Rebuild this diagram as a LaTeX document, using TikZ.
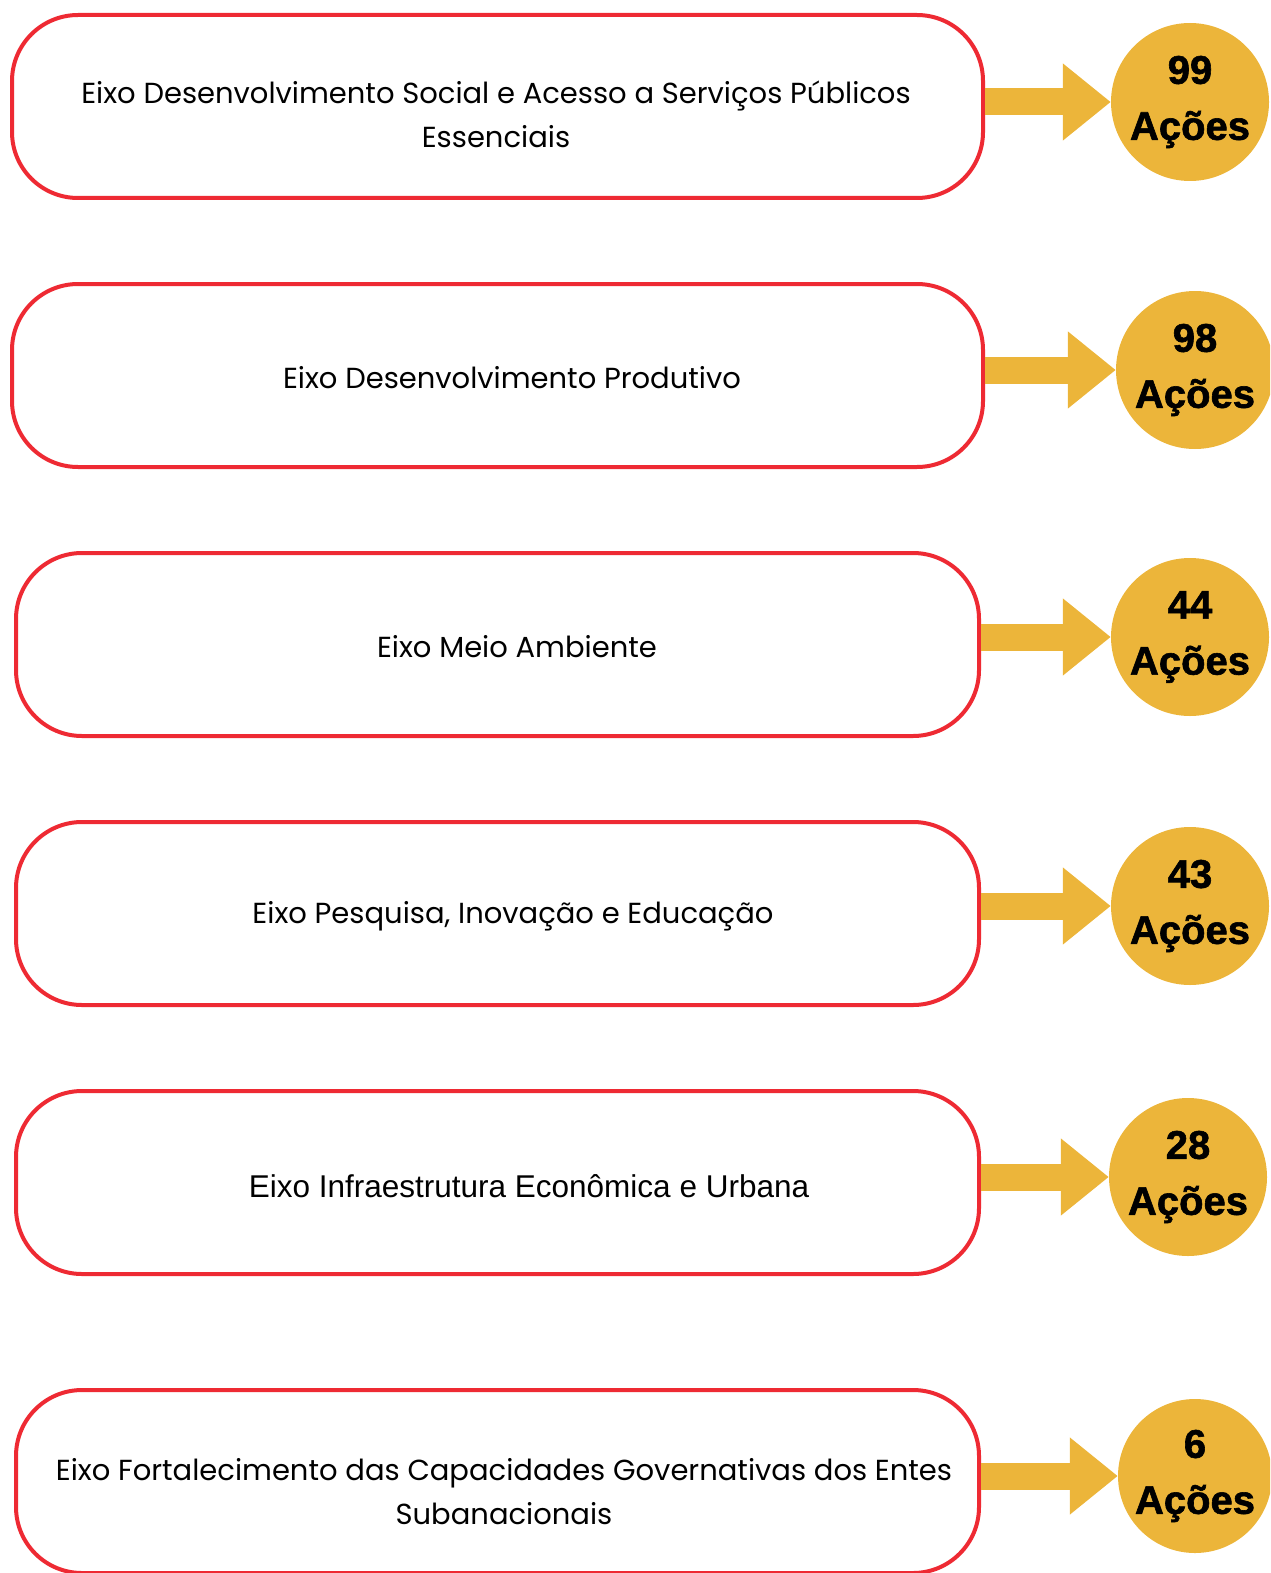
\documentclass[tikz,border=0pt]{standalone}
\usepackage{fontspec}
\setmainfont{Poppins}
\newfontfamily\arialfont{Liberation Sans}
\newfontfamily\numfont{Liberation Sans}[BoldFeatures={FakeBold=1.5}]
\usetikzlibrary{arrows.meta}
\definecolor{Vermelho}{HTML}{EE2A33}
\definecolor{Ouro}{HTML}{ECB53A}

\begin{document}
\begin{tikzpicture}[
      x=1pt, y=-1pt,
      eixo/.style={rectangle, rounded corners=66pt, draw=Vermelho, line width=4pt, fill=white, minimum width=963pt, minimum height=183pt},
      rotulo/.style={align=center, font=\fontsize{29}{44}\selectfont, text=black},
      acoes/.style={circle, fill=Ouro, minimum size=158pt, inner sep=0pt, align=center, font=\numfont\bfseries\fontsize{40}{56}\selectfont},
      seta/.style={-{Triangle[length=48pt, width=74pt]}, line width=27pt, Ouro},
  ]
  \clip (0,0) rectangle (1270,1573);

  % Eixos
  \node[eixo, minimum width=971pt] (e1) at (497.5,106.5) {};
  \node[eixo, minimum width=971pt] (e2) at (497.5,375.5) {};
  \node[eixo] (e3) at (497.5,644.5) {};
  \node[eixo] (e4) at (497.5,913.5) {};
  \node[eixo] (e5) at (497.5,1182.5) {};
  \node[eixo] (e6) at (497.5,1481.5) {};

  % Textos
  \node[rotulo] (t1) at (496,114) {Eixo Desenvolvimento Social e Acesso a Serviços Públicos\\Essenciais};
  \node[rotulo] (t2) at (512,378) {Eixo Desenvolvimento Produtivo};
  \node[rotulo] (t3) at (517,647) {Eixo Meio Ambiente};
  \node[rotulo] (t4) at (513,916) {Eixo Pesquisa, Inovação e Educação};
  \node[rotulo, font=\arialfont\fontsize{31.5}{44}\selectfont] (t5) at (529,1186) {Eixo Infraestrutura Econômica e Urbana};
  \node[rotulo] (t6) at (504,1492) {Eixo Fortalecimento das Capacidades Governativas dos Entes\\Subanacionais};

  % Acoes
  \node[acoes] (c1) at (1190,102) {99\\Ações};
  \node[acoes] (c2) at (1195,370) {98\\Ações};
  \node[acoes] (c3) at (1190,637) {44\\Ações};
  \node[acoes] (c4) at (1190,906) {43\\Ações};
  \node[acoes] (c5) at (1188,1177) {28\\Ações};
  \node[acoes, minimum size=154pt] (c6) at (1195,1476) {6\\Ações};

  % Setas
  \draw[seta] (e1.east |- c1) -- (c1.west);
  \draw[seta] (e2.east |- c2) -- (c2.west);
  \draw[seta] (e3.east |- c3) -- (c3.west);
  \draw[seta] (e4.east |- c4) -- (c4.west);
  \draw[seta] (e5.east |- c5) -- (c5.west);
  \draw[seta] (e6.east |- c6) -- (c6.west);

  \end{tikzpicture}
\end{document}
